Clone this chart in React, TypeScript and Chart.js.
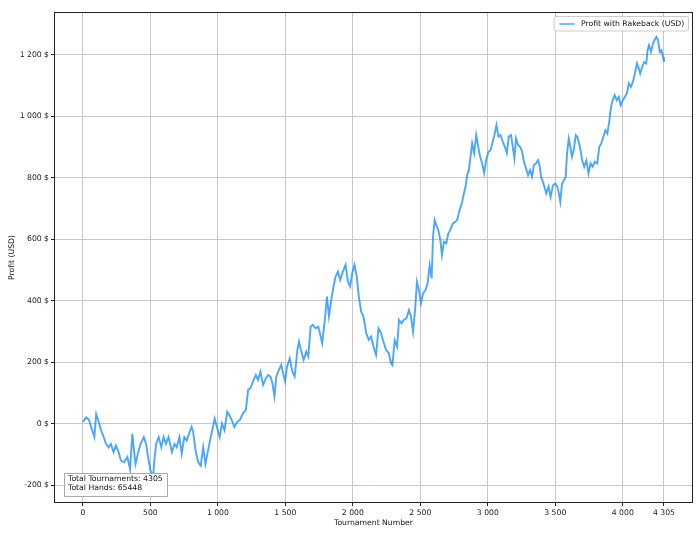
import { useEffect, useRef } from 'react';
import { Chart, registerables } from 'chart.js';

Chart.register(...registerables);

// Cumulative profit at roughly every 15-20 tournaments
const tournaments = [
  0, 24, 44, 61, 85, 98, 117, 134, 154, 171, 190, 207, 227, 244, 264, 281, 305, 329, 349, 366,
  378, 390, 407, 427, 451, 468, 483, 500, 512, 520, 527, 542, 561, 581, 598, 615, 634, 659, 678, 695,
  715, 732, 751, 769, 786, 805, 817, 834, 854, 873, 891, 908, 927, 947, 964, 976, 993, 1013, 1030, 1049,
  1069, 1086, 1103, 1122, 1142, 1163, 1187, 1207, 1224, 1241, 1261, 1281, 1298, 1315, 1335, 1355, 1372, 1389, 1404, 1419,
  1433, 1453, 1470, 1483, 1498, 1512, 1532, 1552, 1569, 1589, 1601, 1618, 1635, 1655, 1670, 1687, 1704, 1724, 1744, 1759,
  1773, 1791, 1808, 1823, 1840, 1857, 1872, 1889, 1906, 1926, 1946, 1963, 1980, 1995, 2012, 2029, 2044, 2062, 2079, 2099,
  2118, 2135, 2153, 2172, 2190, 2209, 2226, 2246, 2266, 2283, 2293, 2310, 2328, 2342, 2360, 2377, 2397, 2416, 2431, 2446,
  2461, 2475, 2490, 2505, 2520, 2539, 2554, 2569, 2584, 2594, 2606, 2618, 2633, 2648, 2660, 2675, 2692, 2707, 2722, 2741,
  2759, 2773, 2791, 2808, 2820, 2835, 2847, 2860, 2872, 2884, 2899, 2914, 2929, 2943, 2958, 2973, 2988, 3005, 3020, 3037,
  3052, 3064, 3079, 3094, 3111, 3126, 3141, 3155, 3172, 3185, 3197, 3209, 3224, 3239, 3254, 3268, 3283, 3298, 3313, 3328,
  3342, 3357, 3372, 3383, 3395, 3413, 3433, 3450, 3465, 3483, 3500, 3515, 3527, 3537, 3550, 3565, 3577, 3587, 3600, 3612,
  3624, 3637, 3652, 3664, 3677, 3687, 3699, 3714, 3731, 3746, 3761, 3776, 3794, 3811, 3826, 3841, 3856, 3871, 3886, 3901,
  3913, 3925, 3940, 3955, 3970, 3985, 4000, 4015, 4030, 4045, 4060, 4075, 4090, 4105, 4115, 4129, 4144, 4159, 4174, 4184,
  4194, 4209, 4224, 4236, 4249, 4261, 4274, 4286, 4299, 4305,
];

const profit = [
  5, 20, 13, -11, -44, 31, 5, -22, -44, -66, -77, -66, -93, -71, -93, -120, -126, -109, -148, -33,
  -87, -131, -98, -66, -44, -66, -109, -153, -164, -180, -131, -66, -44, -77, -44, -66, -44, -93, -66, -77,
  -44, -98, -44, -55, -33, -11, -27, -87, -126, -137, -77, -131, -87, -44, -11, 16, -11, -44, 0, -22,
  38, 27, 11, -11, 5, 12, 34, 44, 109, 115, 137, 158, 142, 169, 126, 147, 158, 153, 131, 88,
  153, 175, 191, 164, 137, 185, 212, 169, 153, 240, 267, 234, 207, 234, 218, 315, 321, 310, 315, 288,
  261, 332, 413, 348, 402, 446, 478, 494, 467, 494, 516, 462, 446, 489, 516, 478, 413, 364, 348, 294,
  272, 283, 250, 223, 310, 294, 267, 240, 229, 196, 190, 271, 250, 337, 326, 337, 342, 369, 347, 299,
  369, 461, 434, 391, 423, 434, 456, 515, 472, 608, 662, 646, 629, 597, 548, 591, 586, 618, 629, 651,
  656, 662, 694, 716, 743, 770, 808, 824, 868, 911, 879, 938, 900, 868, 846, 814, 857, 884, 889, 917,
  944, 971, 933, 938, 917, 900, 879, 933, 938, 900, 862, 927, 906, 900, 884, 851, 830, 808, 824, 803,
  841, 846, 857, 840, 802, 780, 748, 770, 737, 775, 780, 770, 748, 721, 780, 791, 802, 878, 927, 900,
  867, 889, 938, 932, 911, 889, 856, 835, 856, 813, 846, 835, 851, 846, 900, 911, 932, 954, 943, 986,
  1030, 1051, 1068, 1051, 1062, 1035, 1051, 1062, 1073, 1106, 1095, 1111, 1138, 1171, 1160, 1138, 1160, 1176, 1171, 1214,
  1230, 1209, 1236, 1247, 1257, 1247, 1209, 1214, 1192, 1176,
];

const xTicks = [0, 500, 1000, 1500, 2000, 2500, 3000, 3500, 4000, 4305];
const yTicks = [-200, 0, 200, 400, 600, 800, 1000, 1200];

const seriesLabel = 'Profit with Rakeback (USD)';
const infoLines = ['Total Tournaments: 4305', 'Total Hands: 65448'];

const FONT = 'DejaVu Sans';
const FS = 7.7;
const LINE_COLOR = 'rgba(30, 144, 255, 0.8)';

function fmt(n: number) {
  const s = Math.abs(n).toString().replace(/\B(?=(\d{3})+(?!\d))/g, ' ');
  return (n < 0 ? '-' : '') + s;
}

// frame, legend and the stats box, matplotlib style
const framePlugin = {
  id: 'frame',
  afterDatasetsDraw(chart: any) {
    const { ctx, chartArea: a } = chart;
    ctx.save();
    ctx.font = `${FS}px "${FONT}"`;
    ctx.textBaseline = 'middle';

    // stats box, bottom left
    const bx = a.left + 9.5;
    const by = a.bottom - 28.5;
    ctx.fillStyle = 'rgba(255,255,255,0.9)';
    ctx.strokeStyle = '#aaaaaa';
    ctx.lineWidth = 1;
    ctx.beginPath();
    ctx.rect(bx, by, 103, 23);
    ctx.fill();
    ctx.stroke();
    ctx.fillStyle = '#111';
    ctx.textAlign = 'left';
    infoLines.forEach((t, i) => ctx.fillText(t, bx + 3.5, by + 5.5 + i * 9.4));

    // legend, top right
    const lw = 134.5;
    const lx = a.right - 3.5 - lw;
    const ly = a.top + 3.5;
    ctx.fillStyle = 'rgba(255,255,255,0.8)';
    ctx.strokeStyle = '#cccccc';
    ctx.beginPath();
    ctx.roundRect(lx, ly, lw, 14.5, 2);
    ctx.fill();
    ctx.stroke();
    ctx.strokeStyle = LINE_COLOR;
    ctx.lineWidth = 1.5;
    ctx.beginPath();
    ctx.moveTo(lx + 5.5, ly + 7.5);
    ctx.lineTo(lx + 20.5, ly + 7.5);
    ctx.stroke();
    ctx.fillStyle = '#111';
    ctx.fillText(seriesLabel, lx + 27, ly + 7.5);

    // spines
    ctx.strokeStyle = '#222';
    ctx.lineWidth = 1;
    ctx.strokeRect(Math.round(a.left) - 0.5, Math.round(a.top) - 0.5, Math.round(a.right - a.left) + 1, Math.round(a.bottom - a.top) + 1);
    ctx.restore();
  },
};

function ProfitChart() {
  const chartRef = useRef<HTMLCanvasElement>(null);
  const chartInstance = useRef<Chart | null>(null);

  useEffect(() => {
    if (!chartRef.current) return;
    const ctx = chartRef.current.getContext('2d');
    if (!ctx) return;
    if (chartInstance.current) chartInstance.current.destroy();

    const points = tournaments.map((t, i) => ({ x: t, y: profit[i] }));
    const tickFont = { family: FONT, size: FS };

    chartInstance.current = new Chart(ctx, {
      type: 'line',
      data: {
        datasets: [
          {
            label: seriesLabel,
            data: points,
            borderColor: LINE_COLOR,
            borderWidth: 1.9,
            borderJoinStyle: 'miter',
            pointRadius: 0,
            tension: 0,
            fill: false,
          },
        ],
      },
      options: {
        animation: false,
        responsive: true,
        maintainAspectRatio: false,
        layout: { padding: { top: 13, right: 8, left: 0, bottom: 0 } },
        plugins: {
          legend: { display: false },
          tooltip: { enabled: false },
        },
        scales: {
          x: {
            type: 'linear',
            min: -207,
            max: 4513,
            afterBuildTicks: (s: any) => {
              s.ticks = xTicks.map((v) => ({ value: v }));
            },
            afterFit: (s: any) => {
              s.height = 53;
            },
            ticks: {
              autoSkip: false,
              maxRotation: 0,
              padding: 2,
              color: '#1a1a1a',
              font: tickFont,
              callback: (v: any) => fmt(Number(v)),
            },
            grid: { color: '#c8c8c8', tickColor: '#222', tickLength: 4, lineWidth: 1 },
            border: { display: false },
            title: {
              display: true,
              text: 'Tournament Number',
              color: '#111',
              font: tickFont,
              padding: { top: 0, bottom: 27 },
            },
          },
          y: {
            type: 'linear',
            min: -255,
            max: 1335,
            afterBuildTicks: (s: any) => {
              s.ticks = yTicks.map((v) => ({ value: v }));
            },
            afterFit: (s: any) => {
              s.width = 55;
            },
            ticks: {
              padding: 2,
              color: '#1a1a1a',
              font: tickFont,
              callback: (v: any) => `${fmt(Number(v))} $`,
            },
            grid: { color: '#c8c8c8', tickColor: '#222', tickLength: 4, lineWidth: 1 },
            border: { display: false },
            title: {
              display: true,
              text: 'Profit (USD)',
              color: '#111',
              font: tickFont,
              padding: { top: 7, bottom: 0 },
            },
          },
        },
      },
      plugins: [framePlugin],
    });

    return () => {
      if (chartInstance.current) {
        chartInstance.current.destroy();
        chartInstance.current = null;
      }
    };
  }, []);

  return <canvas ref={chartRef} />;
}

export default function App() {
  return (
    <div style={{ position: 'absolute', left: 0, top: 0, width: 700, height: 555, background: '#fff' }}>
      <ProfitChart />
    </div>
  );
}
